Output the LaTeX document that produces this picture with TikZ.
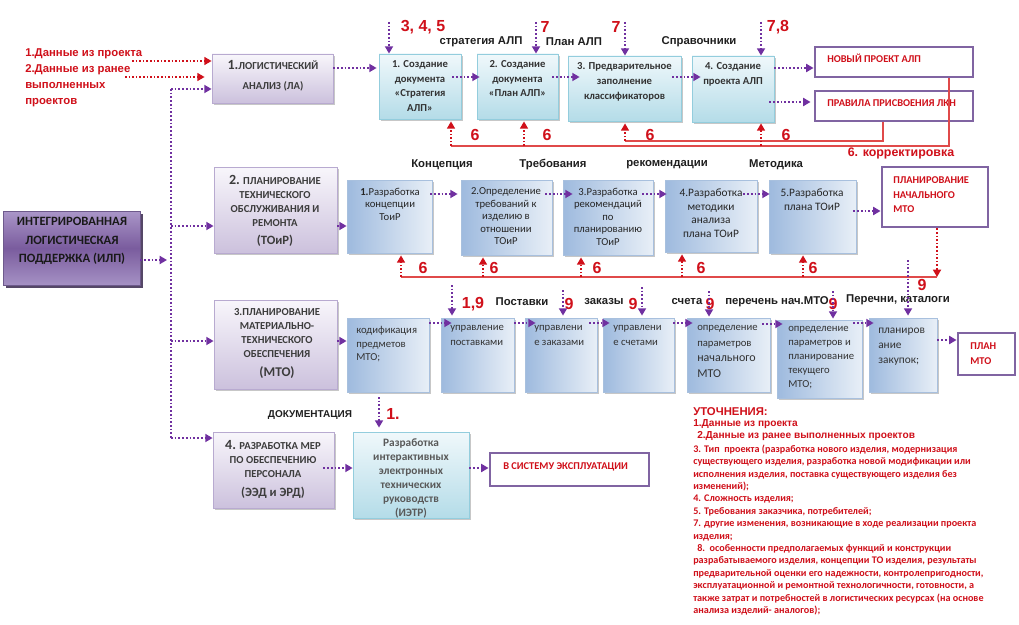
\documentclass[tikz,border=0pt]{standalone}
\usepackage{fontspec}
\setmainfont{Carlito}
\newfontfamily\arl{Liberation Sans}
\usetikzlibrary{arrows.meta,fit,shadows,calc}
\newcommand\myfs[2]{\fontsize{#1}{#2}\selectfont}
\definecolor{apurple}{RGB}{112,48,160}
\definecolor{tred}{RGB}{208,16,26}
\definecolor{lred}{RGB}{224,74,74}
\definecolor{fpurple}{RGB}{128,100,162}
\definecolor{mtop}{RGB}{248,246,251}
\definecolor{mbot}{RGB}{204,193,221}
\definecolor{mbrd}{RGB}{184,170,208}
\definecolor{itop}{RGB}{170,150,200}
\definecolor{imid}{RGB}{122,92,158}
\definecolor{ibot}{RGB}{165,145,196}
\definecolor{ibrd}{RGB}{110,90,140}
\definecolor{ctop}{RGB}{240,248,251}
\definecolor{cbot}{RGB}{180,220,232}
\definecolor{cbrd}{RGB}{147,205,221}
\definecolor{bleft}{RGB}{158,186,222}
\definecolor{bright}{RGB}{232,239,247}
\definecolor{bbrd}{RGB}{168,192,222}
\definecolor{txt}{RGB}{60,60,60}
\tikzset{
  every node/.style={inner sep=0pt},
  boxbase/.style={inner sep=0pt, line width=0.6pt},
  shad/.style={drop shadow={shadow xshift=1.6pt, shadow yshift=-1.6pt, fill=black!40, opacity=0.55}},
  mainbox/.style={boxbase, shad, draw=mbrd, top color=mtop, bottom color=mbot},
  ilpbox/.style={boxbase, draw=ibrd, top color=itop, bottom color=ibot, middle color=imid,
     drop shadow={shadow xshift=2pt, shadow yshift=-2pt, fill=imid!55!black, opacity=0.9}},
  cyanbox/.style={boxbase, shad, draw=cbrd, top color=ctop, bottom color=cbot},
  bluebox/.style={boxbase, shad, draw=bbrd, left color=bleft, right color=bright},
  outbox/.style={draw=fpurple, line width=2.2pt, fill=white, inner sep=0pt},
  parr/.style={draw=apurple, line width=1.3pt, dash pattern=on 1.3pt off 1.5pt,
     -{Triangle[length=5.5pt,width=6pt,fill=apurple]}},
  pline/.style={draw=apurple, line width=1.3pt, dash pattern=on 1.3pt off 1.5pt},
  rarr/.style={draw=tred, line width=1.2pt, dash pattern=on 1.2pt off 1.5pt,
     -{Triangle[length=5.5pt,width=6pt,fill=tred]}},
  rline/.style={draw=lred, line width=0.9pt},
  rnum/.style={text=tred, font=\arl\bfseries\myfs{12}{12}},
  lbl/.style={text=black!88, font=\arl\bfseries\myfs{8.5}{10}},
  mtxt/.style={align=center, text=txt, font=\bfseries\myfs{8}{10.5}},
  ctxt/.style={align=center, text=black!80, font=\bfseries\myfs{8}{10.9}},
  btxt/.style={align=center, text=black!85, font=\myfs{8}{9.4}},
  dtxt/.style={align=left, text=black!80, font=\myfs{8}{11.2}},
  otxt/.style={align=left, text=tred, font=\bfseries\myfs{7.8}{10.9}},
}
\begin{document}
\begin{tikzpicture}[x=0.75pt,y=-0.75pt]
\useasboundingbox[fill=white] (0,0) rectangle (1019,624);

% ---------- boxes ----------
\node[ilpbox, fit={(3,211)(140,285)}] (ilp) {};
\node[mainbox, fit={(212,54)(333,103)}] (la) {};
\node[mainbox, fit={(214,167)(337,253)}] (toir) {};
\node[mainbox, fit={(214,300)(337,389)}] (mto) {};
\node[mainbox, fit={(213,432)(334,508)}] (pers) {};

\node[cyanbox, fit={(379,54)(461,119)}] (b1) {};
\node[cyanbox, fit={(477,54)(558,119)}] (b2) {};
\node[cyanbox, fit={(568,56)(681,121)}] (b3) {};
\node[cyanbox, fit={(692,56)(774,122)}] (b4) {};
\node[cyanbox, fit={(353,432)(469,518)}] (ietr) {};

\node[bluebox, fit={(347,180)(432,253)}] (c1) {};
\node[bluebox, fit={(461,180)(552,255)}] (c2) {};
\node[bluebox, fit={(563,180)(653,255)}] (c3) {};
\node[bluebox, fit={(665,180)(757,252)}] (c4) {};
\node[bluebox, fit={(769,180)(856,253)}] (c5) {};

\node[bluebox, fit={(347,318)(429,392)}] (d1) {};
\node[bluebox, fit={(441,318)(514,392)}] (d2) {};
\node[bluebox, fit={(525,318)(597,392)}] (d3) {};
\node[bluebox, fit={(603,318)(674,392)}] (d4) {};
\node[bluebox, fit={(687,318)(770,392)}] (d5) {};
\node[bluebox, fit={(777,320)(862,398)}] (d6) {};
\node[bluebox, fit={(869,318)(937,392)}] (d7) {};

\node[outbox, fit={(815,47)(973,77)}] (nov) {};
\node[outbox, fit={(815,91)(973,121)}] (prav) {};
\node[outbox, fit={(882,167)(988,227)}] (pnm) {};
\node[outbox, fit={(958,333)(1015,375)}] (pm) {};
\node[outbox, fit={(490,453)(649,486)}] (sys) {};

% ---------- box texts ----------
\node[align=center, text=black!90, font=\bfseries\myfs{9.5}{14}, anchor=north] (ilpt) at (72,217)
  {ИНТЕГРИРОВАННАЯ\\ЛОГИСТИЧЕСКАЯ\\ПОДДЕРЖКА (ИЛП)};
\node[mtxt, font=\bfseries\myfs{8}{15}, anchor=north] (lat) at (273,60.5)
  {{\myfs{10.5}{10}1.}ЛОГИСТИЧЕСКИЙ\\АНАЛИЗ (ЛА)};
\node[mtxt, anchor=north] (toirt) at (275,175)
  {{\myfs{10.5}{10}2.} ПЛАНИРОВАНИЕ\\ТЕХНИЧЕСКОГО\\ОБСЛУЖИВАНИЯ И\\РЕМОНТА\\[3pt]{\myfs{9.5}{10}(ТОиР)}};
\node[mtxt, anchor=north] (mtot) at (277,308)
  {3.ПЛАНИРОВАНИЕ\\МАТЕРИАЛЬНО-\\ТЕХНИЧЕСКОГО\\ОБЕСПЕЧЕНИЯ\\[4pt]{\myfs{10}{10}(МТО)}};
\node[mtxt, anchor=north] (perst) at (273,440)
  {{\myfs{10.5}{10}4.} РАЗРАБОТКА МЕР\\ПО ОБЕСПЕЧЕНИЮ\\ПЕРСОНАЛА\\[4pt]{\myfs{9.5}{10}(ЭЭД и ЭРД)}};

\node[ctxt, anchor=north] (b1t) at (420,60.5) {1. Создание\\документа\\«Стратегия\\АЛП»};
\node[ctxt, anchor=north] (b2t) at (517.5,60.5) {2. Создание\\документа\\«План АЛП»};
\node[ctxt, font=\bfseries\myfs{8}{11.3}, anchor=north] (b3t) at (624.5,62.5) {3. Предварительное\\заполнение\\классификаторов};
\node[ctxt, anchor=north] (b4t) at (733,62.5) {4. Создание\\проекта АЛП};
\node[align=center, text=black!65, font=\bfseries\myfs{8.5}{10.5}, anchor=north] (ietrt) at (411,438)
  {Разработка\\интерактивных\\электронных\\технических\\руководств\\(ИЭТР)};

\node[btxt, anchor=north] (c1t) at (390,187.5) {\textbf{1.}Разработка\\концепции\\ТоиР};
\node[btxt, anchor=north] (c2t) at (506,187.5) {2.Определение\\требований к\\изделию в\\отношении\\ТОиР};
\node[btxt, anchor=north] (c3t) at (608,187.5) {3.Разработка\\рекомендаций\\по\\планированию\\ТОиР};
\node[btxt, font=\myfs{8.5}{10.3}, anchor=north] (c4t) at (711,188.5) {4.Разработка\\методики\\анализа\\плана ТОиР};
\node[btxt, font=\myfs{8.5}{10.5}, anchor=north] (c5t) at (812,188.5) {5.Разработка\\плана ТОиР};

\node[dtxt, font=\myfs{8}{9.8}, anchor=north west] (d1t) at (356,326.5) {кодификация\\предметов\\МТО;};
\node[dtxt, anchor=north west] (d2t) at (450,325.5) {управление\\поставками};
\node[dtxt, anchor=north west] (d3t) at (534,325.5) {управлени\\е заказами};
\node[dtxt, anchor=north west] (d4t) at (613,325.5) {управлени\\е счетами};
\node[dtxt, font=\myfs{8}{11.6}, anchor=north west] (d5t) at (697,325.5) {определение\\параметров\\{\myfs{9}{11.6}начального}\\{\myfs{9}{11.6}МТО}};
\node[dtxt, font=\myfs{8}{10.5}, anchor=north west] (d6t) at (788,326.5) {определение\\параметров и\\планирование\\текущего\\МТО;};
\node[dtxt, font=\myfs{8.5}{11.2}, anchor=north west] (d7t) at (878,327.5) {планиров\\ание\\закупок;};

\node[otxt, anchor=west] (novt) at (827,58) {НОВЫЙ ПРОЕКТ АЛП};
\node[otxt, anchor=west] (pravt) at (827,103) {ПРАВИЛА ПРИСВОЕНИЯ ЛКН};
\node[otxt, anchor=north west] (pnmt) at (893,176.5) {ПЛАНИРОВАНИЕ\\НАЧАЛЬНОГО\\МТО};
\node[otxt, font=\bfseries\myfs{7.8}{11.2}, anchor=north west] (pmt) at (970,342.5) {ПЛАН\\МТО};
\node[otxt, anchor=west] (syst) at (503,467) {В СИСТЕМУ ЭКСПЛУАТАЦИИ};

% ---------- labels ----------
\node[text=tred, font=\arl\bfseries\myfs{8.5}{12}, align=left, anchor=north west] (inp) at (25,48)
  {1.Данные из проекта\\2.Данные из ранее\\выполненных\\проектов};
\node[rnum] (n345) at (423,27) {3, 4, 5};
\node[lbl] (l1) at (481,42) {стратегия АЛП};
\node[rnum] (n7a) at (545,27) {7};
\node[lbl] (l2) at (574,42) {План АЛП};
\node[rnum] (n7b) at (616,27) {7};
\node[lbl] (l3) at (699,42) {Справочники};
\node[rnum] (n78) at (778,27) {7,8};
\node[rnum] (s1) at (475,135) {6};
\node[rnum] (s2) at (547,135) {6};
\node[rnum] (s3) at (650,135) {6};
\node[rnum] (s4) at (786,135) {6};
\node[text=tred, font=\arl\bfseries\myfs{9.3}{10}] (korr) at (901,153) {6. корректировка};

\node[lbl] (k1) at (442,165) {Концепция};
\node[lbl] (k2) at (553,165) {Требования};
\node[lbl] (k3) at (667,165) {рекомендации};
\node[lbl] (k4) at (776,165) {Методика};
\node[rnum] (t1) at (423,268) {6};
\node[rnum] (t2) at (494,268) {6};
\node[rnum] (t3) at (597,268) {6};
\node[rnum] (t4) at (701,268) {6};
\node[rnum] (t5) at (813,268) {6};
\node[rnum] (n9a) at (922,285) {9};

\node[rnum] (n19) at (473,304) {1,9};
\node[lbl] (m1) at (522,302) {Поставки};
\node[rnum] (n9b) at (569,304) {9};
\node[lbl] (m2) at (604,302) {заказы};
\node[rnum] (n9c) at (633,304) {9};
\node[lbl] (m3) at (687,302) {счета};
\node[rnum] (n9d) at (710,304) {9};
\node[lbl] (m4) at (777,302) {перечень нач.МТО};
\node[rnum] (n9e) at (833,304) {9};
\node[lbl] (m5) at (898,300) {Перечни, каталоги};

\node[text=black!88, font=\arl\bfseries\myfs{7.5}{9}] (doc) at (310,415) {ДОКУМЕНТАЦИЯ};
\node[rnum] (n1) at (393,414) {1.};

% ---------- notes ----------
\node[text=tred, font=\arl\bfseries\myfs{8.5}{10}, anchor=west] (u0) at (693,412) {УТОЧНЕНИЯ:};
\node[text=tred, font=\arl\bfseries\myfs{7.6}{9}, anchor=west] (u1) at (693,424) {1.Данные из проекта};
\node[text=tred, font=\arl\bfseries\myfs{7.6}{9}, anchor=west] (u2) at (697,436) {2.Данные из ранее выполненных проектов};
\node[text=tred, font=\bfseries\myfs{7.6}{9.3}, align=left, anchor=north west] (u3) at (693,444.5)
  {3. Тип\ \ проекта (разработка нового изделия, модернизация\\
   существующего изделия, разработка новой модификации или\\
   исполнения изделия, поставка существующего изделия без\\
   изменений);\\
   4. Сложность изделия;\\
   5. Требования заказчика, потребителей;\\
   7. другие изменения, возникающие в ходе реализации проекта\\
   изделия;\\
   \hspace{3pt}8.\ \ особенности предполагаемых функций и конструкции\\
   разрабатываемого изделия, концепции ТО изделия, результаты\\
   предварительной оценки его надежности, контролепригодности,\\
   эксплуатационной и ремонтной технологичности, готовности, а\\
   также затрат и потребностей в логистических ресурсах (на основе\\
   анализа изделий- аналогов);};

% ---------- connectors ----------
\draw[rarr] (132,61) -- (la.west |- 0,61);
\draw[rarr] (125,77) -- ($(la.west |- 0,77)+(-7,0)$);
\draw[pline] (171,89) -- (171,438);
\draw[parr] (ilp.east |- 0,260) -- (167,260);
\draw[parr] (171,89) -- (la.west |- 0,89);
\draw[parr] (171,226) -- (toir.west |- 0,226);
\draw[parr] (171,341) -- (mto.west |- 0,341);
\draw[parr] (171,438) -- (pers.west |- 0,438);

% row 1
\draw[parr] (la.east |- 0,68) -- ($(b1.west |- 0,68)+(-2,0)$);
\draw[parr] ($(b1.east |- 0,77)+(-9,0)$) -- ($(b2.west |- 0,77)+(3,0)$);
\draw[parr] ($(b2.east |- 0,77)+(-6,0)$) -- ($(b3.west |- 0,77)+(12,0)$);
\draw[parr] ($(b3.east |- 0,77)+(-9,0)$) -- ($(b4.west |- 0,77)+(9,0)$);
\draw[parr] (b4.east |- 0,68) -- (nov.west |- 0,68);
\draw[parr] ($(b4.east |- 0,102)+(-5,0)$) -- ($(prav.west |- 0,102)+(-3,0)$);
\draw[parr] (389,22) -- (b1.north -| 389,0);
\draw[parr] (536,22) -- (b2.north -| 536,0);
\draw[parr] (625,22) -- (b3.north -| 625,0);
\draw[parr] (761,22) -- (b4.north -| 761,0);
\draw[rline] (nov.south -| 949,0) |- (451,146);
\draw[rline] (prav.south -| 883,0) |- (625,141);
\draw[rarr] (451,146) -- ($(b1.south -| 451,0)+(0,2)$);
\draw[rarr] (524,146) -- ($(b2.south -| 524,0)+(0,2)$);
\draw[rarr] (625,141) -- ($(b3.south -| 625,0)+(0,2)$);
\draw[rarr] (761,146) -- ($(b4.south -| 761,0)+(0,1)$);

% row 2
\draw[parr] (toir.east |- 0,226) -- (c1.west |- 0,226);
\draw[parr] ($(c1.east |- 0,194)+(-2,0)$) -- ($(c2.west |- 0,194)+(-3,0)$);
\draw[parr] ($(c2.east |- 0,194)+(-7,0)$) -- ($(c3.west |- 0,194)+(10,0)$);
\draw[parr] ($(c3.east |- 0,194)+(-11,0)$) -- ($(c4.west |- 0,194)+(2,0)$);
\draw[parr] ($(c4.east |- 0,194)+(-14,0)$) -- ($(c5.west |- 0,194)+(1,0)$);
\draw[parr] ($(c5.east |- 0,211)+(-3,0)$) -- (pnm.west |- 0,211);
\draw[rarr] (pnm.south -| 937,0) -- (937,277);
\draw[rline] (401,277) -- (937,277);
\draw[rarr] (401,277) -- ($(c1.south -| 401,0)+(0,2)$);
\draw[rarr] (483,277) -- ($(c2.south -| 483,0)+(0,2)$);
\draw[rarr] (581,277) -- ($(c3.south -| 581,0)+(0,2)$);
\draw[rarr] (682,277) -- ($(c4.south -| 682,0)+(0,2)$);
\draw[rarr] (803,277) -- ($(c5.south -| 803,0)+(0,2)$);

% row 3
\draw[parr] (mto.east |- 0,341) -- (d1.west |- 0,341);
\draw[parr] (d1.east |- 0,323) -- ($(d2.west |- 0,323)+(11,0)$);
\draw[parr] (d2.east |- 0,323) -- ($(d3.west |- 0,323)+(11,0)$);
\draw[parr] ($(d3.east |- 0,323)+(-8,0)$) -- ($(d4.west |- 0,323)+(7,0)$);
\draw[parr] ($(d4.east |- 0,323)+(-1,0)$) -- ($(d5.west |- 0,323)+(6,0)$);
\draw[parr] ($(d5.east |- 0,324)+(-8,0)$) -- ($(d6.west |- 0,324)+(6,0)$);
\draw[parr] ($(d6.east |- 0,323)+(-9,0)$) -- ($(d7.west |- 0,323)+(5,0)$);
\draw[parr] (d7.east |- 0,340) -- (pm.west |- 0,340);
\draw[parr] (452,285) -- ($(d2.north -| 452,0)+(0,-2)$);
\draw[parr] (563,290) -- ($(d3.north -| 563,0)+(0,-2)$);
\draw[parr] (642,287) -- ($(d4.north -| 642,0)+(0,-2)$);
\draw[parr] (709,291) -- ($(d5.north -| 709,0)+(0,-1)$);
\draw[parr] (833,291) -- ($(d6.north -| 833,0)+(0,-1)$);
\draw[parr] (908,260) -- ($(d7.north -| 908,0)+(0,-2)$);

% row 4
\draw[parr] (379,397) -- ($(ietr.north -| 379,0)+(0,-4)$);
\draw[parr] ($(pers.east |- 0,468)+(-11,0)$) -- (ietr.west |- 0,468);
\draw[parr] (ietr.east |- 0,468) -- (sys.west |- 0,468);
\end{tikzpicture}
\end{document}
